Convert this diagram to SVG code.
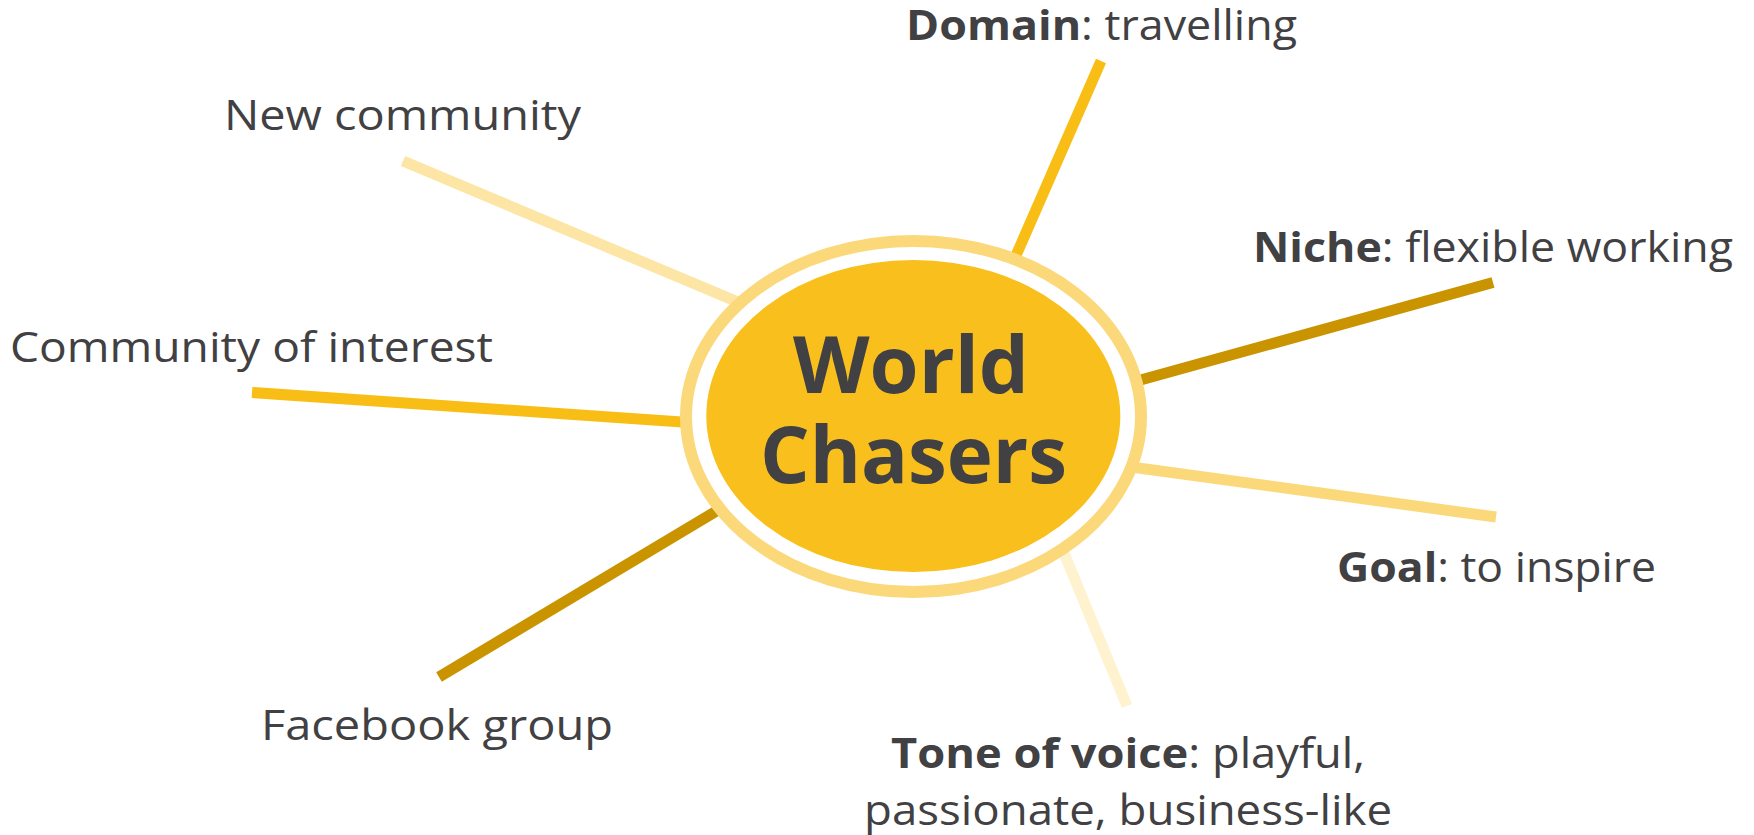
<svg xmlns="http://www.w3.org/2000/svg" width="1754" height="835" viewBox="0 0 1754 835">
  <style>
    .lbl { font-family: "Open Sans", "Noto Sans", sans-serif; font-size: 42px; fill: #414042; }
    .b { font-weight: 700; }
    .title { font-family: "Open Sans", "Noto Sans", sans-serif; font-size: 78px; font-weight: 700; fill: #414042; text-anchor: middle; }
    .spoke { stroke-width: 11; fill: none; stroke-linecap: butt; }
  </style>
  <rect width="1754" height="835" fill="#ffffff"/>

  <!-- spokes radiating from the central ellipse -->
  <g id="connectors">
    <line class="spoke" x1="1101" y1="61" x2="990" y2="315" stroke="#F9BE16"/>
    <line class="spoke" x1="1493" y1="282.5" x2="1090" y2="394" stroke="#C99400"/>
    <line class="spoke" x1="1496" y1="517" x2="1080" y2="460" stroke="#FBD87A"/>
    <line class="spoke" x1="1127" y1="706" x2="1045" y2="507" stroke="#FEF2CF"/>
    <line class="spoke" x1="439" y1="677" x2="770" y2="479" stroke="#C99400"/>
    <line class="spoke" x1="252" y1="392.5" x2="740" y2="426" stroke="#F9BE16"/>
    <line class="spoke" x1="403" y1="161" x2="790" y2="324" stroke="#FDE6A5"/>
  </g>

  <g id="center">
    <ellipse cx="913.5" cy="416.5" rx="227.5" ry="175.5" fill="#ffffff" stroke="#FBD87A" stroke-width="12"/>
    <ellipse cx="913.3" cy="416" rx="207" ry="156" fill="#F9BF1D"/>
    <text class="title" x="911" y="393" textLength="236" lengthAdjust="spacingAndGlyphs">World</text>
    <text class="title" x="913.5" y="483" textLength="307" lengthAdjust="spacingAndGlyphs">Chasers</text>
  </g>

  <g id="domain">
    <text class="lbl" x="906" y="40" textLength="391" lengthAdjust="spacingAndGlyphs"><tspan class="b">Domain</tspan>: travelling</text>
  </g>
  <g id="niche">
    <text class="lbl" x="1253" y="262" textLength="480" lengthAdjust="spacingAndGlyphs"><tspan class="b">Niche</tspan>: flexible working</text>
  </g>
  <g id="goal">
    <text class="lbl" x="1337" y="582" textLength="319" lengthAdjust="spacingAndGlyphs"><tspan class="b">Goal</tspan>: to inspire</text>
  </g>
  <g id="tone">
    <text class="lbl" x="891" y="768" textLength="474" lengthAdjust="spacingAndGlyphs"><tspan class="b">Tone of voice</tspan>: playful,</text>
    <text class="lbl" x="864" y="825" textLength="528" lengthAdjust="spacingAndGlyphs">passionate, business-like</text>
  </g>
  <g id="facebook">
    <text class="lbl" x="261" y="740" textLength="352" lengthAdjust="spacingAndGlyphs">Facebook group</text>
  </g>
  <g id="interest">
    <text class="lbl" x="10" y="362" textLength="483" lengthAdjust="spacingAndGlyphs">Community of interest</text>
  </g>
  <g id="newcommunity">
    <text class="lbl" x="224" y="130" textLength="357" lengthAdjust="spacingAndGlyphs">New community</text>
  </g>
</svg>
